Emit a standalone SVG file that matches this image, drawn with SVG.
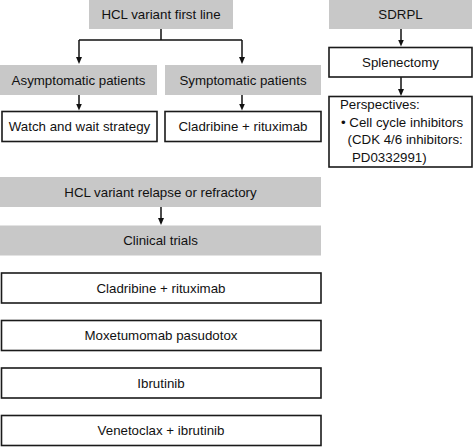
<svg xmlns="http://www.w3.org/2000/svg" width="474" height="447" viewBox="0 0 474 447">
<defs>
<marker id="ah" markerUnits="userSpaceOnUse" markerWidth="8" markerHeight="7" refX="4" refY="3" orient="auto">
<path d="M0,0 L7,3 L0,6 z" fill="#111"/>
</marker>
<style>
.g{fill:#c8c8c8;stroke:none}
.w{fill:#fff;stroke:#1a1a1a;stroke-width:1.6}
text{font-family:"Liberation Sans",Arial,sans-serif;font-size:13.3px;fill:#111}
.c{text-anchor:middle}
.ln{fill:none;stroke:#111;stroke-width:1.5}
</style>
</defs>
<rect width="474" height="447" fill="#fff"/>
<g id="connectors">
<path class="ln" d="M161,29 V40 M79,40 H242"/>
<path class="ln" d="M79,40 V61" marker-end="url(#ah)"/>
<path class="ln" d="M242,40 V61" marker-end="url(#ah)"/>
<path class="ln" d="M79,95 V107.5" marker-end="url(#ah)"/>
<path class="ln" d="M242,95 V107.5" marker-end="url(#ah)"/>
<path class="ln" d="M401,29 V43.5" marker-end="url(#ah)"/>
<path class="ln" d="M401,77 V93" marker-end="url(#ah)"/>
<path class="ln" d="M161,207 V222" marker-end="url(#ah)"/>
</g>
<g id="hcl-first-line"><rect class="g" x="89" y="0" width="144" height="29"/><text class="c" x="161" y="19.2">HCL variant first line</text></g>
<g id="asymptomatic"><rect class="g" x="0" y="65" width="157" height="30"/><text class="c" x="78.5" y="84.7">Asymptomatic patients</text></g>
<g id="symptomatic"><rect class="g" x="165" y="65" width="156" height="30"/><text class="c" x="243" y="84.7">Symptomatic patients</text></g>
<g id="watch-wait"><rect class="w" x="2" y="111.5" width="155" height="30"/><text class="c" x="79.5" y="131.2">Watch and wait strategy</text></g>
<g id="cladribine-first"><rect class="w" x="165" y="111.5" width="156" height="30"/><text class="c" x="243" y="131.2">Cladribine + rituximab</text></g>
<g id="sdrpl"><rect class="g" x="329" y="0" width="143" height="29"/><text class="c" x="400.5" y="19.2">SDRPL</text></g>
<g id="splenectomy"><rect class="w" x="329" y="47.5" width="143" height="29.5"/><text class="c" x="400.5" y="67">Splenectomy</text></g>
<g id="perspectives"><rect class="w" x="329" y="96.5" width="143" height="70.5"/>
<text x="340" y="109">Perspectives:</text>
<text x="341" y="126.5">• Cell cycle inhibitors</text>
<text x="347.5" y="144">(CDK 4/6 inhibitors:</text>
<text x="352" y="161.5">PD0332991)</text>
</g>
<g id="hcl-relapse"><rect class="g" x="0" y="177" width="321" height="30"/><text class="c" x="160.5" y="196.7">HCL variant relapse or refractory</text></g>
<g id="clinical-trials"><rect class="g" x="0" y="225.5" width="321" height="30"/><text class="c" x="160.5" y="245.2">Clinical trials</text></g>
<g id="cladribine-relapse"><rect class="w" x="1.5" y="273" width="319.5" height="30"/><text class="c" x="161" y="292.7">Cladribine + rituximab</text></g>
<g id="moxetumomab"><rect class="w" x="1.5" y="320.5" width="319.5" height="30"/><text class="c" x="161" y="340.2">Moxetumomab pasudotox</text></g>
<g id="ibrutinib"><rect class="w" x="1.5" y="368" width="319.5" height="30"/><text class="c" x="161" y="387.7">Ibrutinib</text></g>
<g id="venetoclax"><rect class="w" x="1.5" y="415.5" width="319.5" height="30"/><text class="c" x="161" y="435.2">Venetoclax + ibrutinib</text></g>
</svg>
